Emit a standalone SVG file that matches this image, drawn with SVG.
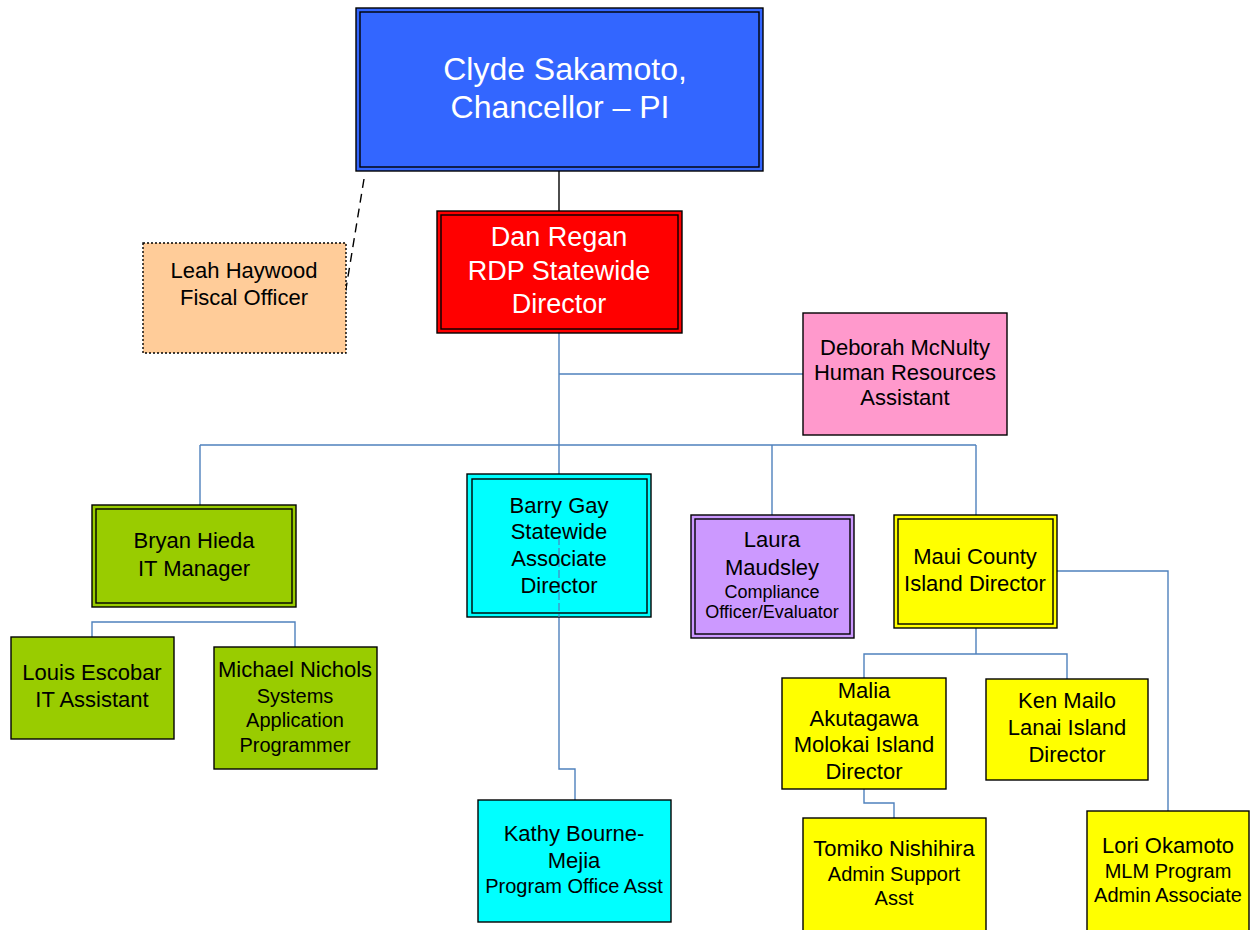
<svg xmlns="http://www.w3.org/2000/svg" width="1250" height="930" viewBox="0 0 1250 930">
<style>
text{font-family:"Liberation Sans",Arial,sans-serif;text-anchor:middle;fill:#000}
.w{fill:#fff}
.b{stroke:#000;stroke-width:1.4}
.c{fill:none;stroke:#4F81BD;stroke-width:1.4}
.k{fill:none;stroke:#000;stroke-width:1.4}
.f22{font-size:22px}
.f20{font-size:20px}
.f18{font-size:18px}
</style>
<rect width="1250" height="930" fill="#fff"/>
<g id="connectors">
<line class="k" x1="559" y1="171" x2="559" y2="212"/>
<line class="k" x1="364" y1="179" x2="343" y2="307" stroke-dasharray="9 6"/>
<path class="c" d="M559 333V475M559 374H803M200 445H976M200 445V505M772 445V515M976 445V516"/>
<path class="c" d="M92 637V622H295V647"/>
<path class="c" d="M976 628V654M864 678V654H1067V679M1057 571H1168V811"/>
<path class="c" d="M864 789V803H894V818"/>
<path class="c" d="M559 617V769H575V800"/>
</g>
<g id="clyde">
<rect class="b" x="356" y="8" width="407" height="163" fill="#3366FF"/>
<rect class="b" x="360" y="12" width="399" height="155" fill="none"/>
<text class="w" x="565" y="80" font-size="32">Clyde Sakamoto,</text>
<text class="w" x="560" y="118" font-size="32">Chancellor – PI</text>
</g>
<g id="leah">
<rect x="143" y="243" width="203" height="110" fill="#FFCC99" stroke="#000" stroke-width="1.4" stroke-dasharray="2 2"/>
<text class="f22" x="244" y="278">Leah Haywood</text>
<text class="f22" x="244" y="305">Fiscal Officer</text>
</g>
<g id="dan">
<rect class="b" x="437" y="211" width="245" height="122" fill="#FF0000"/>
<rect class="b" x="441" y="215" width="237" height="114" fill="none"/>
<text class="w" x="559" y="246" font-size="27">Dan Regan</text>
<text class="w" x="559" y="280" font-size="27">RDP Statewide</text>
<text class="w" x="559" y="313" font-size="27">Director</text>
</g>
<g id="deborah">
<rect class="b" x="803" y="313" width="204" height="122" fill="#FF99CC"/>
<text class="f22" x="905" y="355">Deborah McNulty</text>
<text class="f22" x="905" y="380">Human Resources</text>
<text class="f22" x="905" y="405">Assistant</text>
</g>
<g id="bryan">
<rect class="b" x="92" y="505" width="204" height="102" fill="#99CC00"/>
<rect class="b" x="96" y="509" width="196" height="94" fill="none"/>
<text class="f22" x="194" y="548">Bryan Hieda</text>
<text class="f22" x="194" y="576">IT Manager</text>
</g>
<g id="louis">
<rect class="b" x="11" y="637" width="163" height="102" fill="#99CC00"/>
<text class="f22" x="92" y="680">Louis Escobar</text>
<text class="f22" x="92" y="707">IT Assistant</text>
</g>
<g id="michael">
<rect class="b" x="214" y="647" width="163" height="122" fill="#99CC00"/>
<text class="f22" x="295" y="677">Michael Nichols</text>
<text class="f20" x="295" y="703">Systems</text>
<text class="f20" x="295" y="727">Application</text>
<text class="f20" x="295" y="752">Programmer</text>
</g>
<g id="barry">
<rect class="b" x="467" y="474" width="184" height="143" fill="#00FFFF"/>
<rect class="b" x="472" y="479" width="175" height="134" fill="none"/>
<line x1="559" y1="537" x2="559" y2="617" stroke="#4F81BD" stroke-width="1.2" stroke-dasharray="8 3"/>
<text class="f22" x="559" y="513">Barry Gay</text>
<text class="f22" x="559" y="539">Statewide</text>
<text class="f22" x="559" y="566">Associate</text>
<text class="f22" x="559" y="593">Director</text>
</g>
<g id="laura">
<rect class="b" x="691" y="515" width="163" height="123" fill="#CC99FF"/>
<rect class="b" x="695" y="519" width="155" height="115" fill="none"/>
<text class="f22" x="772" y="547">Laura</text>
<text class="f22" x="772" y="575">Maudsley</text>
<text class="f18" x="772" y="598">Compliance</text>
<text class="f18" x="772" y="618">Officer/Evaluator</text>
</g>
<g id="maui">
<rect class="b" x="894" y="515" width="163" height="113" fill="#FFFF00"/>
<rect class="b" x="898" y="519" width="155" height="105" fill="none"/>
<text class="f22" x="975" y="564">Maui County</text>
<text class="f22" x="975" y="591">Island Director</text>
</g>
<g id="malia">
<rect class="b" x="782" y="678" width="164" height="111" fill="#FFFF00"/>
<text class="f22" x="864" y="698">Malia</text>
<text class="f22" x="864" y="726">Akutagawa</text>
<text class="f22" x="864" y="752">Molokai Island</text>
<text class="f22" x="864" y="779">Director</text>
</g>
<g id="ken">
<rect class="b" x="986" y="679" width="162" height="101" fill="#FFFF00"/>
<text class="f22" x="1067" y="708">Ken Mailo</text>
<text class="f22" x="1067" y="735">Lanai Island</text>
<text class="f22" x="1067" y="762">Director</text>
</g>
<g id="kathy">
<rect class="b" x="478" y="800" width="193" height="122" fill="#00FFFF"/>
<text class="f22" x="574" y="841">Kathy Bourne-</text>
<text class="f22" x="574" y="868">Mejia</text>
<text class="f20" x="574" y="893">Program Office Asst</text>
</g>
<g id="tomiko">
<rect class="b" x="803" y="818" width="183" height="120" fill="#FFFF00"/>
<text class="f22" x="894" y="856">Tomiko Nishihira</text>
<text class="f20" x="894" y="881">Admin Support</text>
<text class="f20" x="894" y="905">Asst</text>
</g>
<g id="lori">
<rect class="b" x="1087" y="811" width="162" height="127" fill="#FFFF00"/>
<text class="f22" x="1168" y="853">Lori Okamoto</text>
<text class="f20" x="1168" y="878">MLM Program</text>
<text class="f20" x="1168" y="902">Admin Associate</text>
</g>
</svg>
